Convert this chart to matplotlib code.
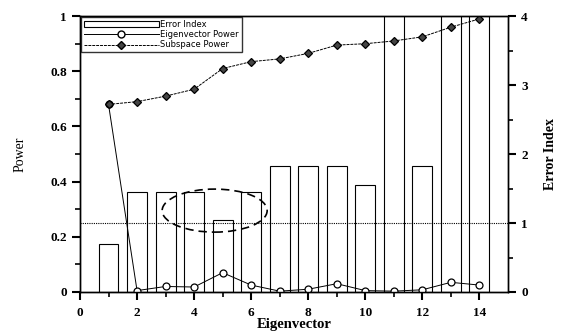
import matplotlib
matplotlib.use("Agg")
import matplotlib.pyplot as plt
from matplotlib.patches import Ellipse, Patch
from matplotlib.lines import Line2D
import numpy as np

eigenvector = [1, 2, 3, 4, 5, 6, 7, 8, 9, 10, 11, 12, 13, 14]
error_index = [0.7, 1.45, 1.45, 1.45, 1.05, 1.45, 1.82, 1.82, 1.82, 1.55, 4.3, 1.82, 4.3, 4.3]
eigen_power = [0.68, 0.005, 0.02, 0.018, 0.07, 0.025, 0.003, 0.01, 0.03, 0.005, 0.003, 0.008, 0.035, 0.025]
subspace_power = [0.68, 0.69, 0.71, 0.735, 0.81, 0.835, 0.845, 0.865, 0.895, 0.90, 0.91, 0.925, 0.96, 0.99]
x_ticks = [0, 2, 4, 6, 8, 10, 12, 14]
left_ticks = [0, 0.2, 0.4, 0.6, 0.8, 1]
left_labels = ["0", "0.2", "0.4", "0.6", "0.8", "1"]
right_ticks = [0, 1, 2, 3, 4]
threshold = 0.25

serif = "Liberation Serif"
fig = plt.figure(figsize=(5.66, 3.36), dpi=100)
ax = fig.add_axes([0.1413, 0.131, 0.7562, 0.821])
ax2 = ax.twinx()
ax.set_zorder(ax2.get_zorder() + 1)
ax.patch.set_visible(False)

ax2.bar(eigenvector, error_index, width=0.7, facecolor="white", edgecolor="black", linewidth=0.8)
ax2.set_ylim(0, 4)

ax.axhline(threshold, color="black", linestyle=(0, (1, 1)), linewidth=0.8)
ax.plot(eigenvector, eigen_power, color="black", linewidth=0.7, linestyle="-",
        marker="o", markersize=5, markerfacecolor="white", markeredgecolor="black", markeredgewidth=0.9)
ax.plot(eigenvector, subspace_power, color="black", linewidth=0.7, linestyle=(0, (3, 1)),
        marker="D", markersize=4.5, markerfacecolor="#444444", markeredgecolor="black", markeredgewidth=0.9)
ax.add_patch(Ellipse((4.72, 0.295), 3.68, 0.156, fill=False, edgecolor="black",
                     linestyle=(0, (5, 3)), linewidth=1.2))

ax.set_xlim(0, 15)
ax.set_ylim(0, 1)
ax.set_xticks(x_ticks)
ax.set_xticks(np.arange(1, 15, 2), minor=True)
ax.set_yticks(left_ticks)
ax.set_yticklabels(left_labels)
ax.set_yticks(np.arange(0.1, 1.0, 0.2), minor=True)
ax2.set_yticks(right_ticks)
ax2.set_yticks(np.arange(0.5, 4.0, 1), minor=True)

for a in (ax, ax2):
    a.tick_params(which="major", direction="out", length=6, width=1.5)
    a.tick_params(which="minor", direction="out", length=3.5, width=1.2)
    for s in a.spines.values():
        s.set_linewidth(1.0)
for lab in ax.get_xticklabels() + ax.get_yticklabels() + ax2.get_yticklabels():
    lab.set_fontfamily(serif)
    lab.set_fontweight("bold")
    lab.set_fontsize(9.5)
ax.tick_params(axis="x", pad=5)

ax.set_xlabel("Eigenvector", fontfamily=serif, fontweight="bold", fontsize=10.5, labelpad=-1)
ax.set_ylabel("Power", fontfamily=serif, fontsize=10, labelpad=17)
ax2.set_ylabel("Error Index", fontfamily=serif, fontweight="bold", fontsize=10, labelpad=12)

handles = [
    Patch(facecolor="white", edgecolor="black", linewidth=0.8),
    Line2D([], [], color="black", linewidth=0.7, marker="o", markersize=5,
           markerfacecolor="white", markeredgecolor="black"),
    Line2D([], [], color="black", linewidth=0.7, linestyle=(0, (3, 1)), marker="D", markersize=4.5,
           markerfacecolor="#444444", markeredgecolor="black"),
]
ax.legend(handles, ["Error Index", "Eigenvector Power", "Subspace Power"], loc="upper left",
          prop={"family": "DejaVu Sans", "size": 6}, frameon=True, fancybox=False,
          edgecolor="black", handlelength=9, handleheight=0.6, borderpad=0.3, labelspacing=0.15,
          handletextpad=0.2, borderaxespad=0.15)
fig.savefig("out.png", dpi=100)
